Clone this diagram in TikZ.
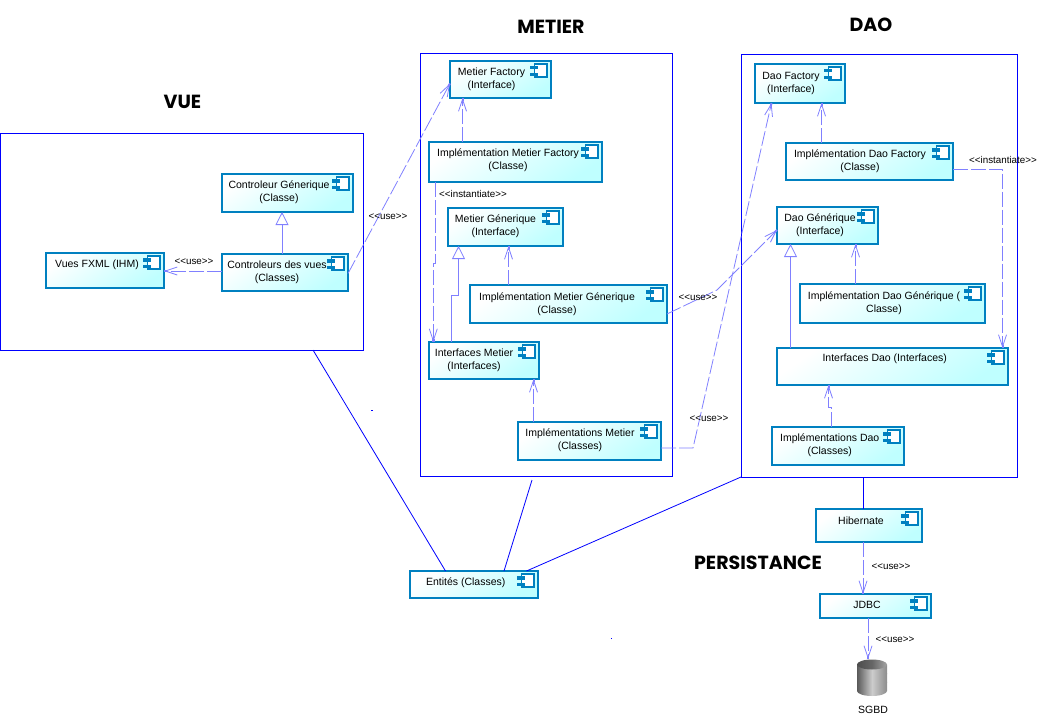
\documentclass[tikz,border=0pt]{standalone}
\usepackage{fontspec}
\setmainfont{Liberation Sans}
\newfontfamily\titlefont{Poppins}
\usepackage{xcolor}
\usetikzlibrary{arrows.meta}
\definecolor{compline}{HTML}{0080C0}
\definecolor{compfill}{HTML}{BFFFFF}
\definecolor{depline}{HTML}{8080FF}

\begin{document}
\begin{tikzpicture}[
  x=1pt, y=-1pt,
  wh/.style 2 args={minimum width=#1pt, minimum height=#2pt},
  group/.style={rectangle, draw=blue, line width=0.8pt, inner sep=0pt, outer sep=0pt},
  comp/.style={rectangle, draw=compline, line width=1.7pt, inner sep=0pt, outer sep=0pt,
               top color=white, bottom color=compfill, shading angle=35,
               path picture={
                 \coordinate (ne) at (path picture bounding box.north east);
                 \draw[compline, line width=1.5pt, fill=white] ([shift={(-16.7,3.2)}]ne) rectangle ([shift={(-3.9,16)}]ne);
                 \fill[compline] ([shift={(-20.8,5.2)}]ne) rectangle ([shift={(-12.9,8.5)}]ne);
                 \fill[compline] ([shift={(-20.8,11.8)}]ne) rectangle ([shift={(-12.9,15.2)}]ne);
               }},
  ctext/.style={align=center, inner sep=0pt, font=\fontsize{10.5}{13}\selectfont},
  stereo/.style={inner sep=0pt, font=\fontsize{9.8}{11}\selectfont},
  ltitle/.style={inner sep=0pt, font=\titlefont\bfseries\fontsize{19}{22}\selectfont},
  dep/.style={depline, line width=0.8pt, dash pattern=on 15pt off 3pt,
              -{Straight Barb[length=12pt,width=8pt,sep=-3pt]Square[length=3pt,width=2pt]}},
  gen/.style={depline, line width=0.8pt, -{Triangle[open,fill=white,length=13pt,width=13pt]}},
  link/.style={blue, line width=0.8pt}
]
\useasboundingbox (0,0) rectangle (1044,717);

% Group boxes
\node[group, wh={363}{217}] (gvue) at (181.5,241.5) {};
\node[group, wh={252}{423}] (gmetier) at (546,264.5) {};
\node[group, wh={276}{423}] (gdao) at (879,265.5) {};

\node[ltitle] (tvue) at (182.5,102) {VUE};
\node[ltitle] (tmetier) at (551,27) {METIER};
\node[ltitle] (tdao) at (871,25) {DAO};
\node[ltitle] (tpers) at (758,563) {PERSISTANCE};

% Vue
\node[comp, wh={131}{38}] (ctrlgen) at (287.5,193) {};
\node[ctext] (ctrlgenT) at (279,192) {Controleur Génerique\\(Classe)};
\node[comp, wh={126}{37}] (ctrlvues) at (285,272.5) {};
\node[ctext] (ctrlvuesT) at (277,272) {Controleurs des vues\\(Classes)};
\node[comp, wh={118}{35}] (vuesfxml) at (105,270.5) {};
\node[ctext] (vuesfxmlT) at (97,264.7) {Vues FXML (IHM)};

% Metier
\node[comp, wh={101}{37}] (mfact) at (500.5,79.5) {};
\node[ctext] (mfactT) at (491.5,79) {Metier Factory\\(Interface)};
\node[comp, wh={173}{40}] (implmfact) at (515.5,162) {};
\node[ctext] (implmfactT) at (508,160) {Implémentation Metier Factory\\(Classe)};
\node[comp, wh={115}{38}] (mgen) at (505.5,227) {};
\node[ctext] (mgenT) at (495.5,226) {Metier Génerique\\(Interface)};
\node[comp, wh={197}{38}] (implmgen) at (568.5,304) {};
\node[ctext] (implmgenT) at (557,304) {Implémentation Metier Génerique\\(Classe)};
\node[comp, wh={110}{37}] (ifmetier) at (484,360.5) {};
\node[ctext] (ifmetierT) at (474,360) {Interfaces Metier\\(Interfaces)};
\node[comp, wh={143}{38}] (implmetier) at (589.5,441) {};
\node[ctext] (implmetierT) at (580,440) {Implémentations Metier\\(Classes)};

% Dao
\node[comp, wh={90}{39}] (dfact) at (800,83.5) {};
\node[ctext] (dfactT) at (791,83) {Dao Factory\\(Interface)};
\node[comp, wh={167}{37}] (impldfact) at (869.5,161.5) {};
\node[ctext] (impldfactT) at (860,161) {Implémentation Dao Factory\\(Classe)};
\node[comp, wh={101}{37}] (dgen) at (827.5,225.5) {};
\node[ctext] (dgenT) at (820,225) {Dao Générique\\(Interface)};
\node[comp, wh={185}{39}] (impldgen) at (892.5,303.5) {};
\node[ctext] (impldgenT) at (884,303) {Implémentation Dao Générique (\\Classe)};
\node[comp, wh={231}{37}] (ifdao) at (892.5,366.5) {};
\node[ctext] (ifdaoT) at (884.7,359) {Interfaces Dao (Interfaces)};
\node[comp, wh={132}{38}] (impldao) at (838,446) {};
\node[ctext] (impldaoT) at (829.7,445) {Implémentations Dao\\(Classes)};

% Persistance
\node[comp, wh={106}{33}] (hibernate) at (869,525.5) {};
\node[ctext] (hibernateT) at (861,520.7) {Hibernate};
\node[comp, wh={111}{24}] (jdbc) at (875.5,606) {};
\node[ctext] (jdbcT) at (867,605) {JDBC};
\node[comp, wh={128}{27}] (entites) at (474,584.5) {};
\node[ctext] (entitesT) at (465.7,582.7) {Entités (Classes)};

% Database stack
\node[wh={30}{37}, inner sep=0pt, outer sep=0pt] (sgbd) at (872,677.5) {};
\foreach \ty in {691,682.5,674}
  \path[left color=black!65, right color=black!45, middle color=black!20]
    (857,\ty) arc[start angle=180, end angle=360, x radius=15pt, y radius=5pt]
    -- ++(0,-9) arc[start angle=0, end angle=180, x radius=15pt, y radius=5pt] -- cycle;
\path[left color=black!70, right color=black!35, middle color=black!60] (872,664.5) ellipse[x radius=15pt, y radius=5pt];
\node[ctext] (sgbdT) at (873,709.5) {SGBD};

% Coordinates
\coordinate (bendA) at (717,290);
\coordinate (bendB) at (693,448);

% Arrows
\draw[dep] ([yshift=1.5pt]ctrlvues.west) -- ([yshift=-.5pt]vuesfxml.east);
\draw[dep] ([yshift=-1pt]ctrlvues.east) -- ([yshift=-4pt]mfact.west);
\draw[gen] ([xshift=-3pt]ctrlvues.north) -- ([xshift=-5.5pt]ctrlgen.south);

\draw[dep] ([xshift=-53pt]implmfact.north) -- ([xshift=-38pt]mfact.south);
\draw[dep] ([xshift=-80.5pt]implmfact.south) -- ++(0,81) -- ++(-1.7,0) -- ([xshift=-50.7pt]ifmetier.north);
\draw[dep] ([xshift=-60pt]implmgen.north) -- ([xshift=3pt]mgen.south);
\draw[gen] ([xshift=-32.5pt]ifmetier.north) -- ++(0,-47) -- ++(7,0) -- ([xshift=-47pt]mgen.south);
\draw[dep] ([xshift=-56pt]implmetier.north) -- ([xshift=49.5pt]ifmetier.south);
\draw[dep] ([yshift=-10pt]implmgen.east) -- (bendA) -- ([yshift=-4.5pt]dgen.west);
\draw[dep] ([yshift=-7pt]implmetier.east) -- (bendB) -- ([xshift=-28.5pt]dfact.south);

\draw[dep] ([xshift=-48pt]impldfact.north) -- ([xshift=21.5pt]dfact.south);
\draw[dep] ([yshift=-7.5pt]impldfact.east) -| ([xshift=110pt]ifdao.north);
\draw[dep] ([xshift=-37pt]impldgen.north) -- ([xshift=28pt]dgen.south);
\draw[gen] ([xshift=-102pt]ifdao.north) -- ([xshift=-37pt]dgen.south);
\draw[dep] ([xshift=-6.5pt]impldao.north) -- ++(0,-20) -- ++(-3,0) -- ([xshift=-64pt]ifdao.south);

\draw[dep] ([xshift=-6pt]hibernate.south) -- ([xshift=-12.5pt]jdbc.north);
\draw[dep] ([xshift=-7.5pt]jdbc.south) -- ([xshift=-4pt]sgbd.north);

\draw[link] ([xshift=131.5pt]gvue.south) -- ([xshift=-28.5pt]entites.north);
\draw[link] ([xshift=-14pt,yshift=-4pt]gmetier.south) -- ([xshift=30pt]entites.north);
\draw[link] (gdao.south west) -- ([xshift=52.5pt]entites.north);
\draw[link] ([xshift=-16pt]gdao.south) -- ([xshift=-6pt]hibernate.north);

% Connector labels
\node[stereo] (lvues) at (194,261.5) {<{}<use>{}>};
\node[stereo] (lmfact) at (388,217) {<{}<use>{}>};
\node[stereo] (limplm) at (473,194) {<{}<instantiate>{}>};
\node[stereo] (ldgen) at (698,298) {<{}<use>{}>};
\node[stereo] (ldfact) at (709,419) {<{}<use>{}>};
\node[stereo] (limpld) at (1003,160) {<{}<instantiate>{}>};
\node[stereo] (ljdbc) at (891,567) {<{}<use>{}>};
\node[stereo] (lsgbd) at (895,640) {<{}<use>{}>};

% Specks
\fill[blue] (371,410) rectangle (373,411);
\fill[blue] (611,638) rectangle (612,639);

\end{tikzpicture}
\end{document}
